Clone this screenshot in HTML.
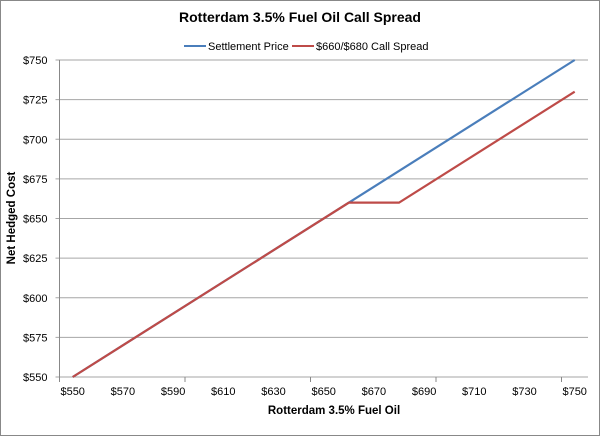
<!DOCTYPE html>
<html><head><meta charset="utf-8"><style>
body{margin:0;background:#fff;}
svg{display:block;font-family:"Liberation Sans",sans-serif;}
</style></head><body>
<svg width="600" height="436">
<rect x="0.5" y="0.5" width="599" height="435" fill="#fff" stroke="#888"/>
<text x="300" y="22" text-anchor="middle" font-size="14" font-weight="bold">Rotterdam 3.5% Fuel Oil Call Spread</text>
<g>
<line x1="184" y1="46" x2="206" y2="46" stroke="#4a7ebb" stroke-width="2"/>
<text x="208" y="50" font-size="11">Settlement Price</text>
<line x1="292" y1="46" x2="314" y2="46" stroke="#be4b48" stroke-width="2"/>
<text x="316" y="50" font-size="11">$660/$680 Call Spread</text>
</g>
<g id="grid"></g><g id="axes"></g><g id="series"></g>
<text x="334" y="414" text-anchor="middle" font-size="11.5" font-weight="bold">Rotterdam 3.5% Fuel Oil</text>
<text transform="translate(15,218) rotate(-90)" text-anchor="middle" font-size="11.5" font-weight="bold">Net Hedged Cost</text>
</svg>
<script>
const yTicks=[550,575,600,625,650,675,700,725,750];
const xTicks=[550,570,590,610,630,650,670,690,710,730,750];
const settlementX=[550,750];
const settlementY=[550,750];
const spreadX=[550,660,680,750];
const spreadY=[550,660,660,730];
const NS="http://www.w3.org/2000/svg";
const L=59.5,R=588,T=60,B=377;
function xs(v){return 72.7+(v-550)*2.51;}
function ys(v){return B-(v-550)*(B-T)/200;}
function mk(tag,attrs,parent){const e=document.createElementNS(NS,tag);for(const k in attrs)e.setAttribute(k,attrs[k]);document.getElementById(parent).appendChild(e);return e;}
yTicks.forEach(v=>{
 const l=mk('line',{x1:L-4,x2:R,y1:ys(v),y2:ys(v),stroke:'#a6a6a6','stroke-width':1},'grid');
 
 
 const t=mk('text',{x:L-12,y:ys(v)+4,'text-anchor':'end','font-size':11,fill:'#000'},'axes');
 t.textContent='$'+v;
 
 
});
const ax=mk('line',{x1:L,x2:L,y1:T,y2:B,stroke:'#888'},'axes');


for(let i=0;i<5;i++){
 const tk=mk('line',{x1:L+125.5*i,x2:L+125.5*i,y1:B,y2:B+5,stroke:'#888'},'axes');
 
 
}
xTicks.forEach(v=>{
 const t=mk('text',{x:xs(v),y:B+18,'text-anchor':'middle','font-size':11},'axes');
 t.textContent='$'+v;
 
 
});
function path(X,Y,color,name){
 const d=X.map((x,i)=>(i?'L':'M')+xs(x)+','+ys(Y[i])).join(' ');
 const p=mk('path',{d:d,fill:'none',stroke:color,'stroke-width':2.2},'series');
 
 
}
path(settlementX,settlementY,'#4a7ebb','settlement-price-line');
path(spreadX,spreadY,'#be4b48','call-spread-line');
</script>
</body></html>
